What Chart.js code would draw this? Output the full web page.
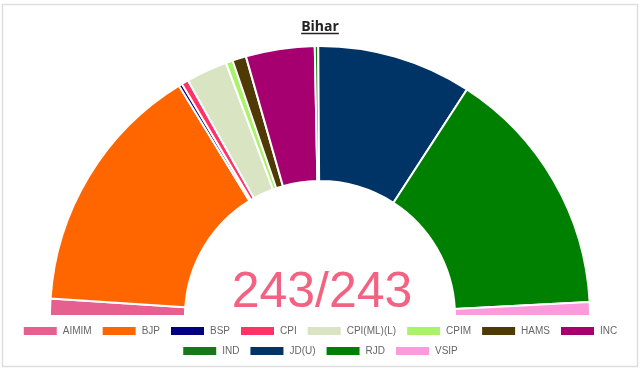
<!DOCTYPE html>
<html>
<head>
<meta charset="utf-8">
<script src="https://cdn.jsdelivr.net/npm/chart.js@4.4.1/dist/chart.umd.min.js"></script>
<style>
  html, body { margin: 0; padding: 0; background: #fff; }
  #wrap { position: absolute; left: 0; top: 0; width: 640px; height: 370px; }
</style>
</head>
<body>
<div id="wrap"><canvas id="c" width="640" height="370"></canvas></div>
<script>
const titleText = 'Bihar';
const parties = ['AIMIM', 'BJP', 'BSP', 'CPI', 'CPI(ML)(L)', 'CPIM', 'HAMS', 'INC', 'IND', 'JD(U)', 'RJD', 'VSIP'];
const seats = [5, 74, 1, 2, 12, 2, 4, 20, 1, 45, 73, 4];
const partyColors = ['#e75f8e', '#ff6600', '#000080', '#ff3366', '#d9e4c2', '#abf26b', '#4f3a06', '#a60070', '#167816', '#003366', '#008000', '#fd9ade'];
const declaredSeats = 243;
const totalSeats = 243;

const frame = {
  id: 'frame',
  beforeDraw(chart) {
    const ctx = chart.ctx;
    ctx.save();
    ctx.fillStyle = '#fff';
    ctx.fillRect(0, 0, chart.width, chart.height);
    ctx.strokeStyle = '#dedede';
    ctx.lineWidth = 1.5;
    ctx.strokeRect(2.5, 4.5, 635, 362);
    ctx.restore();
  }
};

const titleUnderline = {
  id: 'titleUnderline',
  afterDraw(chart) {
    const tb = chart.titleBlock;
    const o = chart.options.plugins.title;
    const ctx = chart.ctx;
    ctx.save();
    ctx.font = 'bold 14px "Open Sans"';
    const w = ctx.measureText(titleText).width;
    const cx = (tb.left + tb.right) / 2;
    const cy = tb.top + o.padding.top + 14 * 1.2 / 2;
    ctx.strokeStyle = '#222';
    ctx.lineWidth = 1.3;
    ctx.beginPath();
    ctx.moveTo(cx - w / 2, cy + 6.5);
    ctx.lineTo(cx + w / 2, cy + 6.5);
    ctx.stroke();
    ctx.restore();
  }
};

const centerText = {
  id: 'centerText',
  afterDraw(chart) {
    const arc = chart.getDatasetMeta(0).data[0];
    const ctx = chart.ctx;
    ctx.save();
    ctx.font = '50px "Liberation Sans", Arial, sans-serif';
    ctx.fillStyle = 'rgb(242, 99, 131)';
    ctx.textAlign = 'center';
    ctx.textBaseline = 'alphabetic';
    ctx.fillText(declaredSeats + '/' + totalSeats, arc.x + 2, arc.y - 9);
    ctx.restore();
  }
};

new Chart(document.getElementById('c'), {
  type: 'doughnut',
  data: {
    labels: parties,
    datasets: [{
      data: seats,
      backgroundColor: partyColors,
      borderColor: '#fff',
      borderWidth: 2
    }]
  },
  options: {
    responsive: false,
    animation: false,
    rotation: -90,
    circumference: 180,
    cutout: '50%',
    radius: 270,
    layout: { padding: { top: 4, bottom: 4, left: 0, right: 0 } },
    plugins: {
      title: {
        display: true,
        text: titleText,
        color: '#222',
        font: { family: '"Open Sans"', size: 14, weight: 'bold' },
        padding: { top: 14.6, bottom: 10.6 }
      },
      legend: {
        display: true,
        position: 'bottom',
        labels: {
          boxWidth: 35,
          boxHeight: 10,
          padding: 10,
          color: '#666',
          font: { family: '"Liberation Sans", Arial, sans-serif', size: 10 }
        }
      },
      tooltip: { enabled: false }
    }
  },
  plugins: [frame, titleUnderline, centerText]
});
</script>
</body>
</html>
